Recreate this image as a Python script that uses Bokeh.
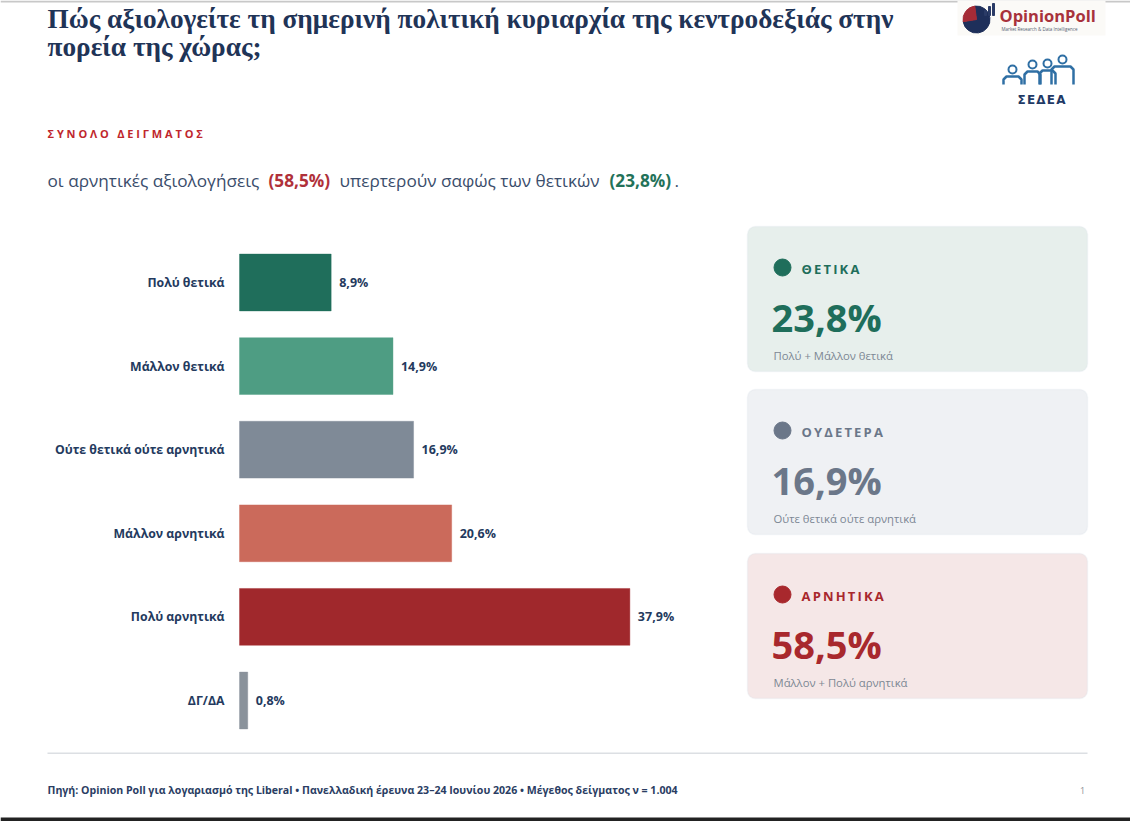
from bokeh.plotting import figure
from bokeh.models import Range1d, Label, BoxAnnotation, ColumnDataSource
from bokeh.core.properties import value
from bokeh.embed import file_html
from bokeh.resources import INLINE

# ---------------- data ----------------
categories = ["Πολύ θετικά", "Μάλλον θετικά", "Ούτε θετικά ούτε αρνητικά",
              "Μάλλον αρνητικά", "Πολύ αρνητικά", "ΔΓ/ΔΑ"]
values = [8.9, 14.9, 16.9, 20.6, 37.9, 0.8]
value_labels = ["8,9%", "14,9%", "16,9%", "20,6%", "37,9%", "0,8%"]
bar_colors = ["#1f6e5b", "#4e9d83", "#7f8a97", "#cb6a5b", "#a0282c", "#8a929b"]

panel_titles = ["ΘΕΤΙΚΑ", "ΟΥΔΕΤΕΡΑ", "ΑΡΝΗΤΙΚΑ"]
panel_values = ["23,8%", "16,9%", "58,5%"]
panel_notes = ["Πολύ + Μάλλον θετικά", "Ούτε θετικά ούτε αρνητικά", "Μάλλον + Πολύ αρνητικά"]
panel_colors = ["#1f6e5b", "#6b7789", "#a8282d"]
panel_fills = ["#e7efec", "#eff1f4", "#f5e7e7"]

title_lines = ["Πώς αξιολογείτε τη σημερινή πολιτική κυριαρχία της κεντροδεξιάς στην",
               "πορεία της χώρας;"]
section_words = ["ΣΥΝΟΛΟ", "ΔΕΙΓΜΑΤΟΣ"]
footer = ("Πηγή: Opinion Poll για λογαριασμό της Liberal • Πανελλαδική έρευνα "
          "23–24 Ιουνίου 2026 • Μέγεθος δείγματος ν = 1.004")

# ---------------- geometry ----------------
W, H = 1130, 821
X0, SCALE = 239.0, 10.3      # px of bar origin, px per percent
Y0, STEP = 282.0, 83.6       # px centre of first bar, px between bars

def px_x(px):
    return (px - X0) / SCALE

def px_y(py):
    return (py - Y0) / STEP

p = figure(width=W, height=H, output_backend="svg", toolbar_location=None,
           x_range=Range1d(px_x(0), px_x(W)), y_range=Range1d(px_y(H), px_y(0)),
           x_axis_location=None, y_axis_location=None, min_border=0)
p.grid.visible = False
p.outline_line_color = None
p.background_fill_color = "white"
p.border_fill_color = "white"

NAVY = "#243a5e"
SANS = "Open Sans"

def lab(x, y, text, size, color, style="normal", font=SANS, align="left", baseline="middle"):
    p.add_layout(Label(x=x, y=H - y, x_units="screen", y_units="screen", text=text,
                       text_font=font, text_font_size=f"{size}px", text_color=color,
                       text_font_style=style, text_align=align, text_baseline=baseline))

def box(left, right, top, bottom, fill, line=None, lw=1, radius=0):
    p.add_layout(BoxAnnotation(left=left, right=right, top=H - top, bottom=H - bottom,
                               left_units="screen", right_units="screen",
                               top_units="screen", bottom_units="screen",
                               fill_color=fill, fill_alpha=1, line_color=line,
                               line_width=lw, border_radius=radius, level="underlay"))

def spaced(word, sep="\u2009"):
    return sep.join(word)

# slide borders
box(0, W, 0, 2, "#c8c8c8")
box(0, W, H - 4, H, "#222222")

# title
lab(47, 18, title_lines[0], 27.3, "#1f3457", "bold", "Liberation Serif")
lab(47, 46, title_lines[1], 27.3, "#1f3457", "bold", "Liberation Serif")

# section + subtitle
lab(47, 133, ("\u00a0\u2002").join(spaced(w, "\u00a0") for w in section_words),
    11, "#c0272d", "bold")
sub_segments = [("οι αρνητικές αξιολογήσεις", 47, "#3a4d6b", "normal"),
                ("(58,5%)", 268, "#b0313a", "bold"),
                ("υπερτερούν σαφώς των θετικών", 339, "#3a4d6b", "normal"),
                ("(23,8%)", 609, "#237259", "bold"),
                (".", 674, "#3a4d6b", "normal")]
for t, x, c, s in sub_segments:
    lab(x, 180, t, 17.2, c, s)

# bars
idx = list(range(len(categories)))
src = ColumnDataSource(dict(y=idx, v=values, c=bar_colors, cat=categories,
                            lab=value_labels, lx=[v + 8 / SCALE for v in values]))
p.hbar(y="y", left=0, right="v", height=0.68, fill_color="c", line_color="c",
       line_alpha=0.4, source=src)
p.text(x=-15 / SCALE, y="y", text="cat", source=src, text_align="right",
       text_baseline="middle", text_font=value(SANS), text_font_size="12.3px",
       text_font_style="bold", text_color=NAVY)
p.text(x="lx", y="y", text="lab", source=src, text_align="left",
       text_baseline="middle", text_font=value(SANS), text_font_size="12.5px",
       text_font_style="bold", text_color=NAVY)

# summary panels
tops = [226, 389, 553]
for i in range(3):
    t = tops[i]
    box(747, 1087, t, t + 145, panel_fills[i], "#dfe4ea", 1.5, 8)
    p.scatter(x=[px_x(782)], y=[px_y(t + 41)], size=17, color=panel_colors[i])
    lab(801, t + 42, spaced(panel_titles[i]), 13, panel_colors[i], "bold")
    lab(771, t + 90, panel_values[i], 38, panel_colors[i], "bold")
    lab(773, t + 129, panel_notes[i], 11.3, "#7d8794")

# footer
box(47, 1087, 752, 753.5, "#dcdfe3")
lab(47, 789, footer, 10.6, "#2a3d63", "bold")
lab(1082, 790, "1", 9, "#8a8f96", align="center")

# OpinionPoll logo
box(957, 1105, 0, 35, "#fbfaf7")
p.wedge(x=[px_x(976)], y=[px_y(19)], radius=13.5, radius_units="screen",
        start_angle=[1.7], end_angle=[3.3], direction="clock", color="#1e2f5a")
p.wedge(x=[px_x(976)], y=[px_y(19)], radius=13.5, radius_units="screen",
        start_angle=[1.7], end_angle=[3.3], direction="anticlock", color="#a52b36")
p.vbar(x=[px_x(x) for x in (985, 989, 993)], bottom=px_y(15), top=[px_y(10), px_y(6), px_y(3)],
       width=2 / SCALE, color="#2a3b66")
lab(999, 15, "OpinionPoll", 16.5, "#a8323c", "bold")
lab(1001, 28, "Market Research & Data Intelligence", 4.5, "#556070")

# SEDEA logo
heads_x = [1012, 1032, 1047, 1062]
heads_y = [69, 64, 63, 59]
p.scatter(x=[px_x(v) for v in heads_x], y=[px_y(v) for v in heads_y], size=8,
          fill_color=None, line_color="#2f6fa4", line_width=2)
for hx, hy, w in zip(heads_x, heads_y, [9, 8, 8, 11]):
    p.line(x=[px_x(hx - w), px_x(hx - w), px_x(hx - w + 3), px_x(hx + w - 3), px_x(hx + w), px_x(hx + w)],
           y=[px_y(84), px_y(hy + 10), px_y(hy + 7), px_y(hy + 7), px_y(hy + 10), px_y(84)],
           line_color="#2f6fa4", line_width=2.5)
lab(1041, 99, spaced("ΣΕΔΕΑ", "\u200a"), 12, "#1f3a66", "bold", "DejaVu Sans", align="center")

open("out.html", "w").write(file_html(p, INLINE))
